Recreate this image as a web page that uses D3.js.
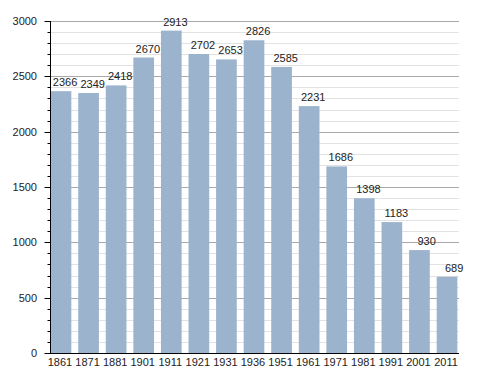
<!DOCTYPE html>
<html>
<head>
<meta charset="utf-8">
<script src="https://cdn.jsdelivr.net/npm/d3@7"></script>
<style>
  body { margin: 0; background: #fff; }
  text { font-family: "Liberation Sans", Arial, sans-serif; }
</style>
</head>
<body>
<div id="chart"></div>
<script>
// census years and population
var years = ["1861", "1871", "1881", "1901", "1911", "1921", "1931", "1936", "1951", "1961", "1971", "1981", "1991", "2001", "2011"];
var population = [2366, 2349, 2418, 2670, 2913, 2702, 2653, 2826, 2585, 2231, 1686, 1398, 1183, 930, 689];
var majorTicks = [0, 500, 1000, 1500, 2000, 2500, 3000];

var width = 488, height = 373;
var fontSize = 11;

var svg = d3.select("#chart").append("svg")
    .attr("width", width)
    .attr("height", height);

var x = d3.scaleBand()
    .domain(years)
    .range([47.2, 460.8])
    .paddingInner(0.25)
    .paddingOuter(0.125);

var y = d3.scaleLinear()
    .domain([0, 3000])
    .range([353, 21]);

// grid lines, light every 100, darker every 500
var minor = d3.range(100, 3001, 100).filter(v => v % 500 != 0);
svg.append("g").selectAll("line")
    .data(minor)
    .join("line")
    .attr("x1", 50).attr("x2", 459)
    .attr("y1", d => Math.round(y(d)) + 0.5)
    .attr("y2", d => Math.round(y(d)) + 0.5)
    .attr("stroke", "#e2e2e2");

svg.append("g").selectAll("line")
    .data(majorTicks.slice(1))
    .join("line")
    .attr("x1", 50).attr("x2", 459)
    .attr("y1", d => Math.round(y(d)) + 0.5)
    .attr("y2", d => Math.round(y(d)) + 0.5)
    .attr("stroke", "#a9a9a9");

// bars
svg.append("g").selectAll("rect")
    .data(years)
    .join("rect")
    .attr("x", d => x(d))
    .attr("width", x.bandwidth())
    .attr("y", (d, i) => y(population[i]))
    .attr("height", (d, i) => y(0) - y(population[i]))
    .attr("fill", "#9bb3cd");

// value labels
svg.append("g").selectAll("text")
    .data(years)
    .join("text")
    .attr("x", d => x(d) + x.bandwidth() + 6)
    .attr("y", (d, i) => y(population[i]) - 5)
    .attr("text-anchor", "end")
    .attr("font-size", fontSize)
    .attr("fill", "#222")
    .text((d, i) => population[i]);

// y axis
var yAxis = svg.append("g").attr("transform", "translate(50.5,0)");
yAxis.append("line")
    .attr("y1", y(3000)).attr("y2", y(0) + 0.5)
    .attr("stroke", "#000");
yAxis.selectAll(".minor")
    .data(d3.range(0, 3001, 100))
    .join("line")
    .attr("class", "minor")
    .attr("x1", d => d % 500 == 0 ? -6 : -3).attr("x2", 0)
    .attr("y1", d => Math.round(y(d)) + 0.5)
    .attr("y2", d => Math.round(y(d)) + 0.5)
    .attr("stroke", "#000");
yAxis.selectAll("text")
    .data(majorTicks)
    .join("text")
    .attr("x", -13.5)
    .attr("y", d => y(d))
    .attr("dy", "0.35em")
    .attr("text-anchor", "end")
    .attr("font-size", fontSize)
    .attr("fill", "#222")
    .text(d => d);

// x axis
svg.append("line")
    .attr("x1", 50).attr("x2", 459)
    .attr("y1", 353.5).attr("y2", 353.5)
    .attr("stroke", "#000");
svg.append("g").selectAll("text")
    .data(years)
    .join("text")
    .attr("x", d => x(d) + x.bandwidth() / 2 - 1)
    .attr("y", 365.5)
    .attr("text-anchor", "middle")
    .attr("font-size", fontSize)
    .attr("fill", "#222")
    .text(d => d);
</script>
</body>
</html>
